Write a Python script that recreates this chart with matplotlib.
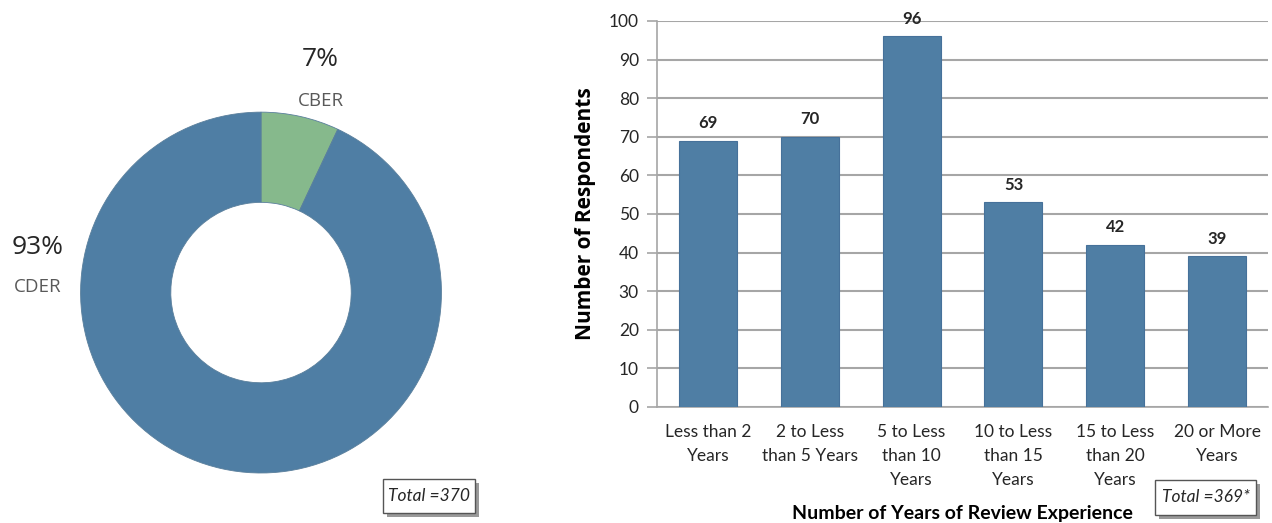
import matplotlib.pyplot as plt
from matplotlib.patches import Rectangle

# donut data
centers = ['CBER', 'CDER']
center_pct = [7, 93]
total_centers = 'Total =370'

# bar data
years = ['Less than 2\nYears', '2 to Less\nthan 5 Years', '5 to Less\nthan 10\nYears',
         '10 to Less\nthan 15\nYears', '15 to Less\nthan 20\nYears', '20 or More\nYears']
respondents = [69, 70, 96, 53, 42, 39]
total_resp = 'Total =369*'

blue = '#4f7ea4'
green = '#86b98c'
grid = '#a6a6a6'
txt = '#262626'

fig = plt.figure(figsize=(12.72, 5.23), dpi=100)

# ---- donut
ax1 = fig.add_axes([0.0629, 0.0956, 0.2846, 0.690])
ax1.pie(center_pct, colors=[green, blue], startangle=90, counterclock=False,
        wedgeprops=dict(width=0.5, edgecolor='#5a7f9c', linewidth=0.6))
ax1.set_xlim(-1, 1)
ax1.set_ylim(-1, 1)
ax1.set_aspect('equal')
lab_pos = [((0.33, 1.29), (0.33, 1.06)), ((-1.24, 0.25), (-1.24, 0.03))]
for name, pct, (p1, p2) in zip(centers, center_pct, lab_pos):
    ax1.text(p1[0], p1[1], '%d%%' % pct, ha='center', va='center', fontsize=19,
             family='Open Sans', color=txt, clip_on=False)
    ax1.text(p2[0], p2[1], name, ha='center', va='center', fontsize=13.5,
             family='Open Sans', color='#595959', clip_on=False)

# ---- bars
ax2 = fig.add_axes([0.5165, 0.222, 0.4804, 0.738])
x = list(range(len(respondents)))
ax2.bar(x, respondents, width=0.57, color=blue, edgecolor='#46719a', linewidth=0.8, zorder=3)
for xi, v in zip(x, respondents):
    ax2.text(xi, v + 2.5, str(v), ha='center', va='bottom', fontsize=12,
             fontweight='bold', family='Lato', color=txt)
ax2.set_xlim(-0.5, len(respondents) - 0.5)
ax2.set_ylim(0, 100)
ax2.set_yticks(range(0, 101, 10))
ax2.set_xticks(x)
ax2.set_xticklabels(years, family='Lato', fontsize=12.5, color=txt, linespacing=1.65)
for lab in ax2.get_yticklabels():
    lab.set_family('Lato')
    lab.set_fontsize(12.5)
    lab.set_color(txt)
ax2.tick_params(axis='x', length=0, pad=12)
ax2.tick_params(axis='y', length=7, color=grid, width=1.2, pad=6)
ax2.yaxis.grid(True, color=grid, linewidth=1.5, zorder=0)
for s in ['top', 'right']:
    ax2.spines[s].set_visible(False)
for s in ['left', 'bottom']:
    ax2.spines[s].set_color(grid)
    ax2.spines[s].set_linewidth(1.2)
ax2.set_ylabel('Number of Respondents', family='Open Sans', fontsize=15,
               fontweight='bold', color='black', labelpad=9)
ax2.set_xlabel('Number of Years of Review Experience', family='Lato', fontsize=14,
               fontweight='bold', color='black', labelpad=12)


def total_box(x0, y0, w, h, s):
    W, H = 1272.0, 523.0
    fig.patches.append(Rectangle(((x0 + 4) / W, 1 - (y0 + h + 4) / H), w / W, h / H,
                                 transform=fig.transFigure, facecolor='#9a9a9a',
                                 edgecolor='none', zorder=1))
    fig.patches.append(Rectangle((x0 / W, 1 - (y0 + h) / H), w / W, h / H,
                                 transform=fig.transFigure, facecolor='white',
                                 edgecolor='#555555', linewidth=1, zorder=2))
    fig.text((x0 + w / 2) / W, 1 - (y0 + h / 2) / H, s, ha='center', va='center',
             fontsize=12.5, style='italic', family='Lato', color=txt, zorder=3)


total_box(383, 479, 92, 34, total_centers)
total_box(1155, 480, 101, 35, total_resp)

fig.savefig('out.png', dpi=100)
